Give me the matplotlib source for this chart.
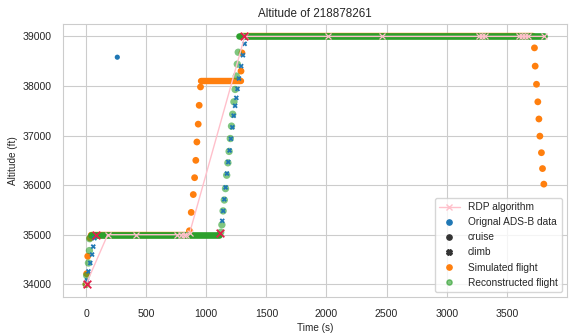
import matplotlib.pyplot as plt
from matplotlib.lines import Line2D
import numpy as np
import seaborn as sns

sns.set_style("whitegrid")
plt.rcParams['font.family'] = ['Liberation Sans', 'DejaVu Sans']
plt.rcParams['font.size'] = 7.2

# ---- data ----
# original ADS-B data, climb phases
orig_climb_t = [8, 20, 35, 50, 60, 70,
                1133, 1141, 1150, 1161, 1172, 1183, 1194, 1205, 1217, 1228,
                1240, 1250, 1260, 1272, 1290, 1305, 1319]
orig_climb_alt = [34080, 34260, 34430, 34600, 34760, 34930,
                  35280, 35480, 35714, 35954, 36234, 36466, 36700, 36934, 37166, 37400,
                  37600, 37760, 37940, 38150, 38400, 38620, 38850]
# original ADS-B data, cruise outlier
orig_cruise_t = [260]
orig_cruise_alt = [38580]

# simulated flight: climb / descent samples and level segments
sim_t = [0, 5, 14, 33,
         860, 875, 892, 903, 913, 922, 933, 941, 952,
         1289, 1297,
         3730, 3736, 3747, 3758, 3767, 3775, 3788, 3797, 3808]
sim_alt = [34000, 34214, 34566, 34934,
           35080, 35450, 35810, 36150, 36500, 36870, 37230, 37610, 37980,
           38300, 38667,
           38768, 38400, 38034, 37680, 37334, 36988, 36654, 36334, 36020]
sim_level_start = [40, 955, 1300]
sim_level_end = [860, 1290, 3722]
sim_level_alt = [35000, 38100, 39000]

# reconstructed flight
rec_t = [0, 5, 20, 28, 30,
         1120, 1130, 1140, 1150, 1160, 1170, 1180, 1190, 1200, 1210, 1220,
         1230, 1240, 1250, 1258, 1266]
rec_alt = [34000, 34180, 34430, 34680, 34920,
           35050, 35200, 35480, 35700, 35930, 36200, 36450, 36680, 36940, 37190, 37430,
           37680, 37930, 38200, 38440, 38680]
rec_level_start = [42, 1272]
rec_level_end = [1105, 3808]
rec_level_alt = [35000, 39000]

# RDP algorithm
rdp_t = [0, 180, 417, 760, 790, 812, 835, 861, 1320, 2013, 2458,
         3265, 3290, 3320, 3600, 3625, 3650, 3675, 3808]
rdp_alt = [34000, 35000, 35000, 35000, 35000, 35000, 35000, 35030, 39000, 39000, 39000,
           39000, 39000, 39000, 39000, 39000, 39000, 39000, 39000]

# RDP key points (red crosses)
key_t = [5, 80, 1111, 1315]
key_alt = [34000, 35000, 35040, 39000]

blue = '#1f77b4'
orange = '#ff7f0e'
green = '#2ca02c'

fig = plt.figure(figsize=(5.69, 3.33), dpi=100)
ax = fig.add_axes([0.111, 0.109, 0.885, 0.819])

ax.hlines(sim_level_alt, sim_level_start, sim_level_end, color=orange,
          linewidth=4.6, capstyle='round', zorder=2)
ax.scatter(sim_t, sim_alt, s=24, color=orange, edgecolors='none', zorder=2)

ax.hlines(rec_level_alt, rec_level_start, rec_level_end, color=green,
          linewidth=4.8, capstyle='round', zorder=3)
ax.scatter(rec_t, rec_alt, s=28, color=green, alpha=0.6, edgecolors='none', zorder=3)

ax.scatter(orig_climb_t, orig_climb_alt, s=14, marker='X', color=blue,
           edgecolors='none', zorder=4)
ax.scatter(orig_cruise_t, orig_cruise_alt, s=14, marker='o', color=blue,
           edgecolors='none', zorder=4)

ax.plot(rdp_t, rdp_alt, color='pink', linewidth=1, marker='x', markersize=4,
        markeredgewidth=0.9, zorder=5)
ax.scatter(key_t, key_alt, s=30, marker='x', color='#e0204a', linewidths=1.3, zorder=6)

ax.set_yticks([34000, 35000, 36000, 37000, 38000, 39000])
ax.set_xticks([0, 500, 1000, 1500, 2000, 2500, 3000, 3500])
ax.tick_params(axis='both', labelsize=7.6, pad=5)
ax.set_title("Altitude of 218878261", fontsize=8.4, pad=5)
ax.set_xlabel("Time (s)", labelpad=3)
ax.set_ylabel("Altitude (ft)")
ax.yaxis.set_label_coords(-0.09, 0.5)

handles = [
    Line2D([], [], color='pink', marker='x', markersize=4, linewidth=1),
    Line2D([], [], color=blue, marker='o', linestyle='', markersize=3.8),
    Line2D([], [], color='#333333', marker='o', linestyle='', markersize=3.8),
    Line2D([], [], color='#333333', marker='X', linestyle='', markersize=3.8),
    Line2D([], [], color=orange, marker='o', linestyle='', markersize=3.8),
    Line2D([], [], color=green, alpha=0.6, marker='o', linestyle='', markersize=3.8),
]
labels = ["RDP algorithm", "Orignal ADS-B data", "cruise", "climb",
          "Simulated flight", "Reconstructed flight"]
ax.legend(handles, labels, loc='lower right', fontsize=7.3)

plt.savefig("out.png", dpi=100)
